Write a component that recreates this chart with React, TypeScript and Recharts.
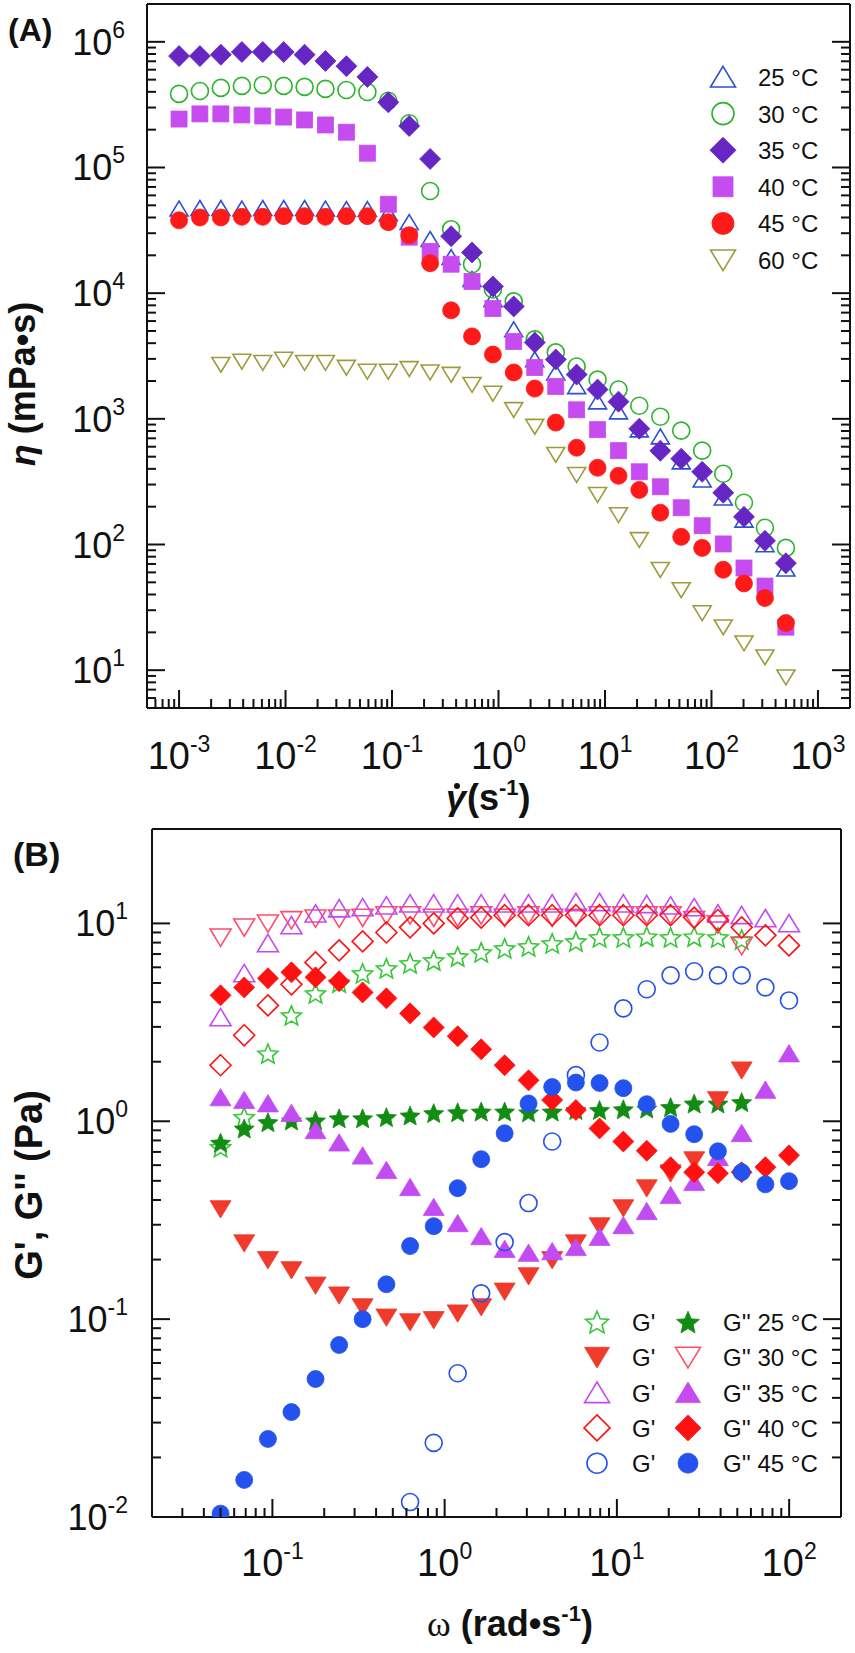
import React from 'react';
import { ScatterChart, Scatter, XAxis, YAxis } from 'recharts';

const FONT = '"Liberation Sans", Arial, Helvetica, sans-serif';

// ---------- panel A: viscosity vs shear rate ----------
const shearRate = [
  0.001, 0.00157, 0.00247, 0.00389, 0.00611, 0.00961, 0.0151, 0.0237, 0.0373, 0.0587,
  0.0923, 0.145, 0.228, 0.359, 0.564, 0.886, 1.39, 2.19, 3.45, 5.42,
  8.52, 13.4, 21.0, 33.1, 52.0, 81.8, 129, 202, 318, 500,
];
const eta25 = [
  47000, 47500, 47500, 47000, 47500, 47500, 47500, 47000, 46500, 46500,
  43000, 36700, 26900, 19300, 12900, 8900, 5140, 2970, 2330, 1810,
  1370, 1140, 820, 721, 456, 327, 235, 157, 100, 64,
];
const eta30 = [
  385000, 406000, 430000, 446000, 454000, 446000, 438000, 422000, 414000, 399000,
  340000, 225000, 65000, 32300, 17000, 10700, 8600, 4290, 3380, 2610,
  2050, 1710, 1270, 1040, 805, 558, 366, 215, 136, 94,
];
const eta35 = [
  770000, 770000, 790000, 830000, 830000, 830000, 790000, 705000, 640000, 526000,
  330000, 214000, 117000, 28400, 21100, 11300, 7850, 4050, 2970, 2250,
  1710, 1370, 835, 557, 482, 379, 258, 166, 107, 71,
];
const eta40 = [
  243000, 267000, 267000, 262000, 257000, 252000, 239000, 218000, 191000, 130000,
  51000, 27900, 21500, 17000, 12400, 7560, 4130, 2560, 1810, 1180,
  820, 558, 379, 288, 196, 141, 101, 65, 46.7, 22,
];
const eta45 = [
  38000, 40000, 40000, 40500, 40500, 41000, 41000, 40500, 41000, 41000,
  36700, 28900, 17300, 7300, 4530, 3250, 2340, 1740, 933, 589,
  408, 352, 272, 179, 115, 94, 63, 49, 37.5, 23.7,
];
const eta60 = [
  null, null, 2700, 2860, 2800, 2970, 2800, 2800, 2560, 2380,
  2380, 2500, 2350, 2250, 1870, 1590, 1180, 867, 519, 359,
  249, 172, 109, 63, 43.5, 28.5, 22, 16.4, 12.7, 8.8,
];

// ---------- panel B: moduli vs angular frequency ----------
const omega = [
  0.05, 0.0686, 0.0942, 0.129, 0.178, 0.244, 0.334, 0.459, 0.630, 0.864,
  1.19, 1.63, 2.23, 3.07, 4.21, 5.78, 7.93, 10.9, 14.9, 20.5,
  28.1, 38.6, 53.0, 72.8, 99.8,
];
const gp25 = [
  0.74, 1.05, 2.2, 3.43, 4.43, 5.03, 5.59, 5.93, 6.28, 6.5,
  6.81, 7.14, 7.48, 7.66, 7.93, 8.11, 8.5, 8.5, 8.59, 8.5,
  8.59, 8.5, 8.3, null, null,
];
const gpp25 = [
  0.78, 0.92, 0.99, 1.01, 1.01, 1.035, 1.035, 1.05, 1.07, 1.1,
  1.11, 1.12, 1.12, 1.11, 1.12, 1.14, 1.14, 1.15, 1.16, 1.18,
  1.23, 1.23, 1.25, null, null,
];
const gp30 = [
  0.36, 0.242, 0.199, 0.177, 0.148, 0.132, 0.115, 0.102, 0.0966, 0.099,
  0.107, 0.115, 0.138, 0.165, 0.199, 0.242, 0.295, 0.364, 0.459, 0.546,
  0.636, 1.28, 1.81, null, null,
];
const gpp30 = [
  8.5, 9.55, 10, 10.4, 10.6, 10.6, 10.7, 11.0, 11.0, 10.7,
  10.7, 11.0, 10.7, 11.0, 10.7, 10.7, 11.0, 11.0, 11.0, 11.0,
  10.4, 9.9, 7.7, null, null,
];
const gp35 = [
  3.35, 5.59, 7.93, 9.77, 11.2, 11.9, 12.05, 12.3, 12.6, 12.6,
  12.6, 12.6, 12.6, 12.6, 12.6, 12.8, 12.8, 12.6, 12.5, 12.3,
  12.05, 11.2, 11.0, 10.6, 10,
];
const gpp35 = [
  1.32, 1.28, 1.23, 1.1, 0.9, 0.78, 0.67, 0.566, 0.464, 0.368,
  0.305, 0.262, 0.226, 0.216, 0.22, 0.231, 0.26, 0.298, 0.351, 0.423,
  0.492, 0.658, 0.87, 1.44, 2.2,
];
const gp40 = [
  1.92, 2.72, 3.85, 4.92, 6.35, 7.31, 8.11, 9.0, 9.55, 10,
  10.6, 10.7, 11.0, 11.0, 11.0, 11.0, 11.0, 11.0, 11.0, 11.0,
  10.7, 10.4, 9.55, 8.7, 7.74,
];
const gpp40 = [
  4.33, 4.75, 5.28, 5.66, 5.34, 5.1, 4.48, 4.18, 3.51, 2.98,
  2.69, 2.31, 1.92, 1.61, 1.28, 1.14, 0.92, 0.79, 0.71, 0.586,
  0.553, 0.546, 0.553, 0.586, 0.673,
];
const gp45 = [
  null, null, null, null, null, null, null, null, 0.0119, 0.0237,
  0.0533, 0.135, 0.245, 0.386, 0.79, 1.71, 2.5, 3.72, 4.65, 5.46,
  5.73, 5.46, 5.46, 4.75, 4.08,
];
const gpp45 = [
  0.0104, 0.0154, 0.0248, 0.0339, 0.0498, 0.074, 0.1, 0.15, 0.234, 0.295,
  0.459, 0.643, 0.869, 1.23, 1.49, 1.57, 1.56, 1.47, 1.22, 0.97,
  0.86, 0.705, 0.553, 0.48, 0.498,
];

// axis decades
const etaXMajor = [1e-3, 1e-2, 1e-1, 1, 10, 100, 1000];
const etaYMajor = [1, 10, 100, 1e3, 1e4, 1e5, 1e6];
const gXMajor = [0.01, 0.1, 1, 10, 100];
const gYMajor = [0.01, 0.1, 1, 10];

const legendA = ['25 °C', '30 °C', '35 °C', '40 °C', '45 °C', '60 °C'];
const legendB = ['25 °C', '30 °C', '35 °C', '40 °C', '45 °C'];

type Kind = 'circle' | 'square' | 'diamond' | 'up' | 'down' | 'star';

function Marker({ kind, cx, cy, s, color, filled }: { kind: Kind; cx: number; cy: number; s: number; color: string; filled: boolean }) {
  const p = { fill: filled ? color : 'none', stroke: color, strokeWidth: filled ? 0.8 : 1.6 };
  switch (kind) {
    case 'circle':
      return <circle cx={cx} cy={cy} r={s} {...p} />;
    case 'square':
      return <rect x={cx - s} y={cy - s} width={2 * s} height={2 * s} {...p} />;
    case 'diamond':
      return <polygon points={`${cx},${cy - s} ${cx + s},${cy} ${cx},${cy + s} ${cx - s},${cy}`} {...p} />;
    case 'up':
      return <polygon points={`${cx},${cy - s * 0.85} ${cx + s},${cy + s * 0.8} ${cx - s},${cy + s * 0.8}`} {...p} />;
    case 'down':
      return <polygon points={`${cx},${cy + s * 0.85} ${cx + s},${cy - s * 0.8} ${cx - s},${cy - s * 0.8}`} {...p} />;
    default: {
      const pts: string[] = [];
      for (let i = 0; i < 10; i++) {
        const r = i % 2 === 0 ? s : s * 0.45;
        const a = -Math.PI / 2 + (i * Math.PI) / 5;
        pts.push(`${cx + r * Math.cos(a)},${cy + 0.1 * s + r * Math.sin(a)}`);
      }
      return <polygon points={pts.join(' ')} {...p} />;
    }
  }
}

const shape = (kind: Kind, color: string, filled: boolean, s: number) => (props: any) =>
  props.cx == null ? <g /> : <Marker kind={kind} cx={props.cx} cy={props.cy} s={s} color={color} filled={filled} />;

const pts = (xs: number[], ys: (number | null)[]) =>
  xs.map((x, i) => ({ x, y: ys[i] })).filter((d) => d.y != null);

const withMinor = (majors: number[], lo: number, hi: number) =>
  majors
    .flatMap((d) => [1, 2, 3, 4, 5, 6, 7, 8, 9].map((m) => +(m * d / 10).toPrecision(6)))
    .concat(majors)
    .filter((v, i, a) => a.indexOf(v) === i && v >= lo && v < hi)
    .sort((a, b) => a - b);

const isMajor = (v: number) => Math.abs(Math.log10(v) - Math.round(Math.log10(v))) < 1e-6;

const makeTick = (side: 'bottom' | 'top' | 'left' | 'right', labelOff = 0, fs = 36) => (props: any) => {
  const { x, y, payload } = props;
  const v = payload.value;
  const major = isMajor(v);
  const len = major ? 18 : 9;
  let x2 = x;
  let y2 = y;
  if (side === 'bottom') y2 = y - len;
  if (side === 'top') y2 = y + len;
  if (side === 'left') x2 = x + len;
  if (side === 'right') x2 = x - len;
  const e = Math.round(Math.log10(v));
  let label = null;
  if (labelOff && major) {
    label =
      side === 'bottom' ? (
        <text x={x} y={y + labelOff} textAnchor="middle" fontSize={fs} fontFamily={FONT} fill="#111">
          10<tspan dy={-17} fontSize={23}>{e}</tspan>
        </text>
      ) : (
        <text x={x - labelOff} y={y + 13} textAnchor="end" fontSize={fs} fontFamily={FONT} fill="#111">
          10<tspan dy={-17} fontSize={23}>{e}</tspan>
        </text>
      );
  }
  return (
    <g>
      <line x1={x} y1={y} x2={x2} y2={y2} stroke="#111" strokeWidth={2} />
      {label}
    </g>
  );
};

const axisLine = { stroke: '#111', strokeWidth: 2 };

// axes are 1px thick so that Recharts draws them; ticks are drawn inward by makeTick
function Frame({ xDomain, yDomain, xTicks, yTicks, xOff, xFs, yOff }: any) {
  return [
    <XAxis key="b" xAxisId="b" type="number" dataKey="x" scale="log" domain={xDomain} ticks={xTicks} interval={0}
      allowDataOverflow height={1} tickSize={0} tickMargin={0} tickLine={false} axisLine={axisLine}
      tick={makeTick('bottom', xOff, xFs)} />,
    <XAxis key="t" xAxisId="t" orientation="top" type="number" scale="log" domain={xDomain} ticks={xTicks} interval={0}
      allowDataOverflow height={1} tickSize={0} tickMargin={0} tickLine={false} axisLine={axisLine}
      tick={makeTick('top')} />,
    <YAxis key="l" yAxisId="l" type="number" dataKey="y" scale="log" domain={yDomain} ticks={yTicks} interval={0}
      allowDataOverflow width={1} tickSize={0} tickMargin={0} tickLine={false} axisLine={axisLine}
      tick={makeTick('left', yOff, 36)} />,
    <YAxis key="r" yAxisId="r" orientation="right" type="number" scale="log" domain={yDomain} ticks={yTicks} interval={0}
      allowDataOverflow width={1} tickSize={0} tickMargin={0} tickLine={false} axisLine={axisLine}
      tick={makeTick('right')} />,
  ];
}

const C = {
  a25: '#2a50d6', a30: '#2bb52b', a35: '#6626c4', a40: '#c64cf0', a45: '#ff1a1a', a60: '#9c9c3c',
  starOpen: '#36c736', starFill: '#128c12', triRed: '#ef3a2c', triPink: '#ff4d6a',
  violet: '#c24cf2', dia: '#ff1111', blue: '#2352ee',
};

const seriesA: { data: (number | null)[]; kind: Kind; color: string; filled: boolean; s: number; ls: number }[] = [
  { data: eta25, kind: 'up', color: C.a25, filled: false, s: 9, ls: 12.5 },
  { data: eta30, kind: 'circle', color: C.a30, filled: false, s: 8.5, ls: 11 },
  { data: eta35, kind: 'diamond', color: C.a35, filled: true, s: 10.5, ls: 13 },
  { data: eta40, kind: 'square', color: C.a40, filled: true, s: 8, ls: 10 },
  { data: eta45, kind: 'circle', color: C.a45, filled: true, s: 8.5, ls: 11 },
  { data: eta60, kind: 'down', color: C.a60, filled: false, s: 9, ls: 12.5 },
];

const seriesB: { gp: (number | null)[]; gpp: (number | null)[]; k1: Kind; c1: string; f1: boolean; k2: Kind; c2: string; f2: boolean }[] = [
  { gp: gp25, gpp: gpp25, k1: 'star', c1: C.starOpen, f1: false, k2: 'star', c2: C.starFill, f2: true },
  { gp: gp30, gpp: gpp30, k1: 'down', c1: C.triRed, f1: true, k2: 'down', c2: C.triPink, f2: false },
  { gp: gp35, gpp: gpp35, k1: 'up', c1: C.violet, f1: false, k2: 'up', c2: C.violet, f2: true },
  { gp: gp40, gpp: gpp40, k1: 'diamond', c1: C.dia, f1: false, k2: 'diamond', c2: C.dia, f2: true },
  { gp: gp45, gpp: gpp45, k1: 'circle', c1: C.blue, f1: false, k2: 'circle', c2: C.blue, f2: true },
];

const sizeB: Record<Kind, number> = { star: 10.5, down: 10.5, up: 10.5, diamond: 10.5, circle: 8.5, square: 8 };
const legSizeB: Record<Kind, number> = { star: 12, down: 12.5, up: 12.5, diamond: 13, circle: 10, square: 10 };

export default function App() {
  const bold = { fontFamily: FONT, fontWeight: 700, fill: '#111' } as const;
  return (
    <div style={{ position: 'absolute', left: 0, top: 0, width: 855, height: 1653, background: '#fff' }}>
      <div style={{ position: 'absolute', left: 0, top: 0 }}>
        <ScatterChart width={855} height={780} margin={{ top: 3, right: 4, bottom: 71, left: 146 }}>
          {Frame({
            xDomain: [5e-4, 2000], yDomain: [5, 2e6],
            xTicks: withMinor(etaXMajor, 5.5e-4, 2000), yTicks: withMinor(etaYMajor, 5.5, 2e6),
            xOff: 61, xFs: 38, yOff: 22,
          })}
          {seriesA.map((s, i) => (
            <Scatter key={i} xAxisId="b" yAxisId="l" data={pts(shearRate, s.data)}
              shape={shape(s.kind, s.color, s.filled, s.s)} isAnimationActive={false} />
          ))}
        </ScatterChart>
      </div>
      <div style={{ position: 'absolute', left: 0, top: 780 }}>
        <ScatterChart width={855} height={873} margin={{ top: 48, right: 13, bottom: 135, left: 151 }}>
          {Frame({
            xDomain: [0.02, 200], yDomain: [0.01, 30],
            xTicks: withMinor(gXMajor, 0.021, 200), yTicks: withMinor(gYMajor, 0.0099, 30),
            xOff: 59, xFs: 38, yOff: 24,
          })}
          {seriesB.flatMap((s, i) => [
            <Scatter key={`p${i}`} xAxisId="b" yAxisId="l" data={pts(omega, s.gp)}
              shape={shape(s.k1, s.c1, s.f1, sizeB[s.k1])} isAnimationActive={false} />,
            <Scatter key={`pp${i}`} xAxisId="b" yAxisId="l" data={pts(omega, s.gpp)}
              shape={shape(s.k2, s.c2, s.f2, sizeB[s.k2])} isAnimationActive={false} />,
          ])}
        </ScatterChart>
      </div>
      <svg width={855} height={1653} style={{ position: 'absolute', left: 0, top: 0, pointerEvents: 'none' }}>
        {/* panel A texts */}
        <text x={8} y={41} fontSize={32} {...bold}>(A)</text>
        <text transform="translate(35,384) rotate(-90)" textAnchor="middle" fontSize={36} {...bold}>
          <tspan fontStyle="italic">η</tspan> (mPa•s)
        </text>
        <text x={446} y={810} fontSize={36} fontStyle="italic" {...bold}>γ</text>
        <circle cx={457} cy={786} r={3} fill="#111" />
        <text x={467} y={810} fontSize={36} {...bold}>
          (s<tspan dy={-15} fontSize={22}>-1</tspan><tspan dy={15}>)</tspan>
        </text>
        {seriesA.map((s, i) => (
          <g key={i}>
            <Marker kind={s.kind} cx={723} cy={77 + i * 36.6} s={s.ls} color={s.color} filled={s.filled} />
            <text x={758} y={77 + i * 36.6 + 9} fontSize={24} fontFamily={FONT} fill="#111">{legendA[i]}</text>
          </g>
        ))}

        {/* panel B texts */}
        <text x={13} y={866} fontSize={34} {...bold}>(B)</text>
        <text transform="translate(42,1185) rotate(-90)" textAnchor="middle" fontSize={38} {...bold}>
          G&apos;, G&apos;&apos; (Pa)
        </text>
        <text x={427} y={1636} fontSize={36} {...bold}>
          <tspan fontFamily='"Liberation Serif", "Times New Roman", serif' fontWeight={400}>ω</tspan> (rad•s
          <tspan dy={-15} fontSize={22}>-1</tspan><tspan dy={15}>)</tspan>
        </text>
        {seriesB.map((s, i) => {
          const cy = 1322 + i * 35.3;
          return (
            <g key={i}>
              <Marker kind={s.k1} cx={597} cy={cy} s={legSizeB[s.k1]} color={s.c1} filled={s.f1} />
              <text x={632} y={cy + 9} fontSize={24} fontFamily={FONT} fill="#111">G&apos;</text>
              <Marker kind={s.k2} cx={688} cy={cy} s={legSizeB[s.k2]} color={s.c2} filled={s.f2} />
              <text x={723} y={cy + 9} fontSize={24} fontFamily={FONT} fill="#111">G&apos;&apos; {legendB[i]}</text>
            </g>
          );
        })}
      </svg>
    </div>
  );
}
